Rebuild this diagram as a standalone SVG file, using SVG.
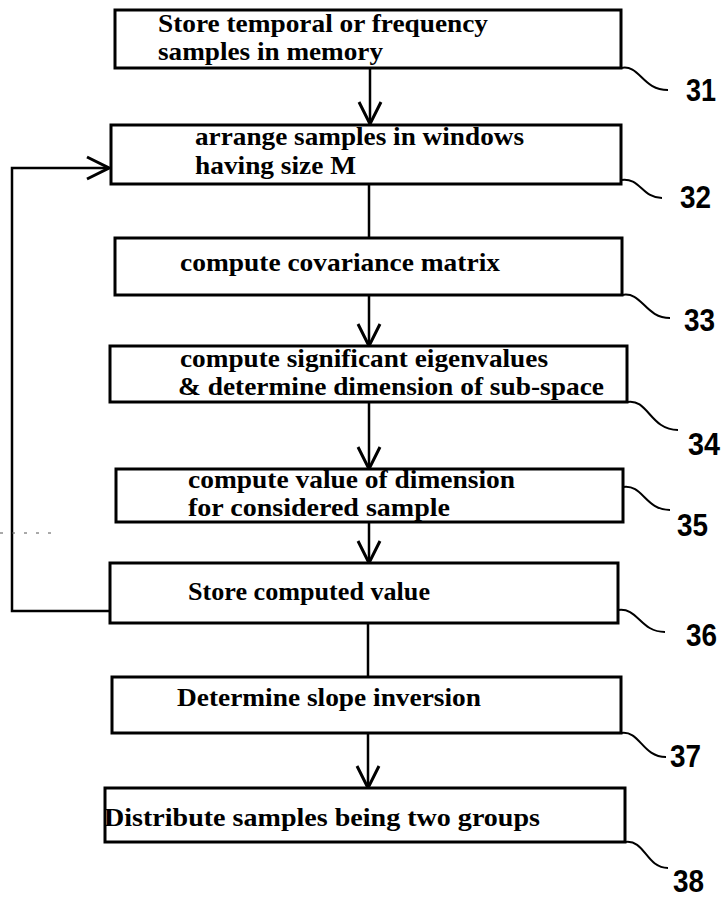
<svg xmlns="http://www.w3.org/2000/svg" width="727" height="898" viewBox="0 0 727 898">
<style>
.box{fill:#fff;stroke:#000;stroke-width:3}
.t{font-family:"Liberation Serif","Times New Roman",serif;font-weight:bold;font-size:26px;fill:#000}
.s{font-size:25px}
.n{font-family:"Liberation Sans","Arial",sans-serif;font-weight:bold;font-size:31px;fill:#000}
.c{fill:none;stroke:#000;stroke-width:2.5}
.l{fill:none;stroke:#000;stroke-width:2}
</style>
<defs>
<marker id="ah" viewBox="0 0 26 26" refX="25" refY="13" markerWidth="26" markerHeight="26" markerUnits="userSpaceOnUse" orient="auto">
<path d="M3,2 L25,13 L3,24" fill="none" stroke="#000" stroke-width="3"/>
</marker>
</defs>
<g id="connectors">
<line class="c" x1="370" y1="68" x2="370" y2="124" marker-end="url(#ah)"/>
<line class="c" x1="369" y1="184" x2="369" y2="238"/>
<line class="c" x1="369" y1="295" x2="369" y2="346" marker-end="url(#ah)"/>
<line class="c" x1="369" y1="402" x2="369" y2="469" marker-end="url(#ah)"/>
<line class="c" x1="369" y1="522" x2="369" y2="563" marker-end="url(#ah)"/>
<line class="c" x1="368" y1="623" x2="368" y2="677"/>
<line class="c" x1="368" y1="733" x2="368" y2="788" marker-end="url(#ah)"/>
<polyline class="c" points="110,611 12,611 12,168 109,168" marker-end="url(#ah)"/>
<line x1="0" y1="533" x2="56" y2="533" stroke="#555" stroke-width="1" stroke-dasharray="3 9"/>
</g>
<g id="leaders">
<path class="l" d="M621,68 C640,64 642,90 668,90"/>
<path class="l" d="M621,180 C640,177 642,198 662,198"/>
<path class="l" d="M622,295 C642,291 645,318 670,318"/>
<path class="l" d="M627,402 C648,398 650,430 678,430"/>
<path class="l" d="M623,487 C643,484 645,510 670,510"/>
<path class="l" d="M618,610 C638,607 640,632 665,632"/>
<path class="l" d="M621,733 C640,730 642,757 666,757"/>
<path class="l" d="M625,842 C645,839 646,868 668,868"/>
</g>
<g id="n31"><rect class="box" x="115" y="10" width="506" height="58"/>
<text class="t" x="158" y="32" textLength="330" lengthAdjust="spacingAndGlyphs">Store temporal or frequency</text>
<text class="t" x="158" y="60" textLength="225" lengthAdjust="spacingAndGlyphs">samples in memory</text>
<text class="n" x="686" y="101" textLength="30" lengthAdjust="spacingAndGlyphs">31</text></g>
<g id="n32"><rect class="box" x="111" y="125" width="510" height="59"/>
<text class="t" x="195" y="145" textLength="329" lengthAdjust="spacingAndGlyphs">arrange samples in windows</text>
<text class="t" x="195" y="174" textLength="161" lengthAdjust="spacingAndGlyphs">having size M</text>
<text class="n" x="680" y="208" textLength="31" lengthAdjust="spacingAndGlyphs">32</text></g>
<g id="n33"><rect class="box" x="115" y="238" width="507" height="57"/>
<text class="t" x="180" y="271" textLength="320" lengthAdjust="spacingAndGlyphs">compute covariance matrix</text>
<text class="n" x="684" y="331" textLength="31" lengthAdjust="spacingAndGlyphs">33</text></g>
<g id="n34"><rect class="box" x="110" y="346" width="517" height="56"/>
<text class="t s" x="180" y="367" textLength="368" lengthAdjust="spacingAndGlyphs">compute significant eigenvalues</text>
<text class="t s" x="178" y="395" textLength="426" lengthAdjust="spacingAndGlyphs">&amp; determine dimension of sub-space</text>
<text class="n" x="688" y="455" textLength="32" lengthAdjust="spacingAndGlyphs">34</text></g>
<g id="n35"><rect class="box" x="116" y="469" width="507" height="53"/>
<text class="t s" x="188" y="488" textLength="327" lengthAdjust="spacingAndGlyphs">compute value of dimension</text>
<text class="t s" x="188" y="516" textLength="262" lengthAdjust="spacingAndGlyphs">for considered sample</text>
<text class="n" x="677" y="536" textLength="31" lengthAdjust="spacingAndGlyphs">35</text></g>
<g id="n36"><rect class="box" x="110" y="563" width="508" height="60"/>
<text class="t" x="188" y="600" textLength="242" lengthAdjust="spacingAndGlyphs">Store computed value</text>
<text class="n" x="686" y="646" textLength="31" lengthAdjust="spacingAndGlyphs">36</text></g>
<g id="n37"><rect class="box" x="112" y="677" width="509" height="56"/>
<text class="t" x="177" y="706" textLength="304" lengthAdjust="spacingAndGlyphs">Determine slope inversion</text>
<text class="n" x="670" y="767" textLength="31" lengthAdjust="spacingAndGlyphs">37</text></g>
<g id="n38"><rect class="box" x="105" y="788" width="520" height="54"/>
<text class="t" x="104" y="826" textLength="436" lengthAdjust="spacingAndGlyphs">Distribute samples being two groups</text>
<text class="n" x="673" y="892" textLength="31" lengthAdjust="spacingAndGlyphs">38</text></g>
</svg>
